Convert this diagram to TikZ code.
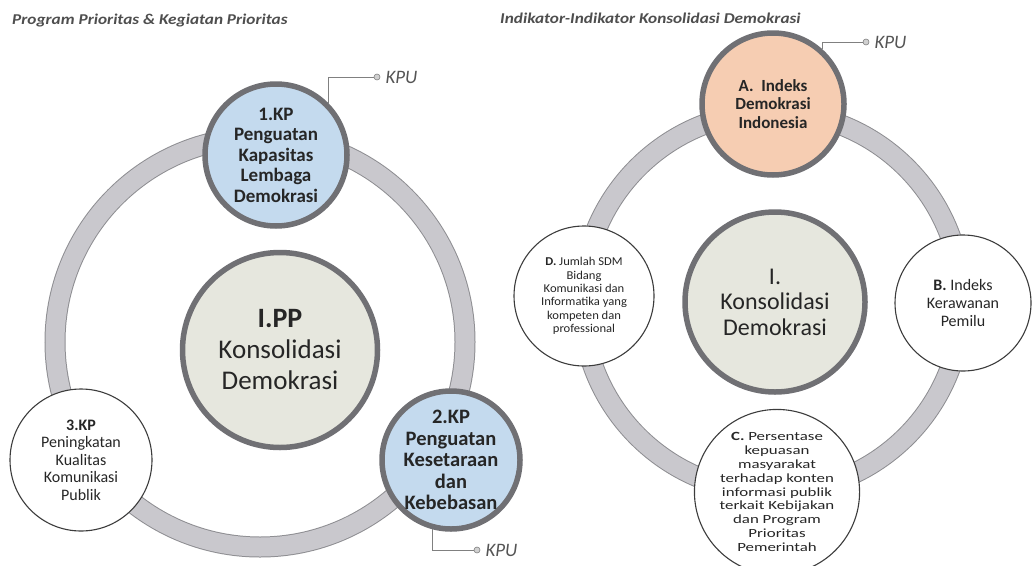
\documentclass[tikz,border=0pt]{standalone}
\usepackage{fontspec}
\setmainfont{Carlito}
\newfontfamily\widefont[FakeStretch=1.35]{Carlito}
\newfontfamily\narrowfont[FakeStretch=1.05]{Carlito}
\newfontfamily\headfont[FakeStretch=1.15]{Carlito}
\usetikzlibrary{positioning}

\definecolor{ringgray}{HTML}{C9C8CD}
\definecolor{ringedge}{HTML}{8E8E92}
\definecolor{bordergray}{HTML}{707074}
\definecolor{thingray}{HTML}{3C3C3C}
\definecolor{paleblue}{HTML}{C4DAEE}
\definecolor{peach}{HTML}{F6CDB2}
\definecolor{palegreen}{HTML}{E6E7DE}
\definecolor{textdark}{HTML}{262626}
\definecolor{headgray}{HTML}{4E4E4E}
\definecolor{kpugray}{HTML}{555555}
\definecolor{linegray}{HTML}{808080}
\definecolor{dotgray}{HTML}{D0D0D0}

\tikzset{
  thickcirc/.style={circle, draw=bordergray, line width=5.5pt, inner sep=0pt, align=center, text=textdark},
  thincirc/.style={circle, draw=thingray, line width=1.1pt, fill=white, inner sep=0pt, align=center, text=textdark},
  kpuline/.style={draw=linegray, line width=0.8pt},
  kpudot/.style={circle, draw=linegray, fill=dotgray, line width=0.6pt, inner sep=0pt, minimum size=6pt},
  kpulabel/.style={inner sep=0pt, font=\fontsize{19}{19}\selectfont\itshape, text=kpugray},
  heading/.style={anchor=west, inner sep=0pt, font=\headfont\fontsize{15}{15}\selectfont\bfseries\itshape, text=headgray}
}

\begin{document}
\begin{tikzpicture}[x=1pt,y=-1pt]
  \useasboundingbox (0,0) rectangle (1032,565);

  % Headings
  \node[heading] (headL) at (12,20) {Program Prioritas \& Kegiatan Prioritas};
  \node[heading] (headR) at (500,18) {Indikator-Indikator Konsolidasi Demokrasi};

  % The two grey rings
  \foreach \cx/\cy/\r in {260/342/205, 772/302/190} {
    \draw[ringedge, line width=21pt] (\cx,\cy) circle[radius=\r];
    \draw[ringgray, line width=19pt] (\cx,\cy) circle[radius=\r];
  }

  % Left: programme and activities
  \node[thickcirc, fill=palegreen, minimum size=195pt,
        font=\fontsize{27}{31}\selectfont] (pp) at (280,350)
    {{\fontsize{28}{31}\selectfont\bfseries I.PP}\\Konsolidasi\\Demokrasi};
  \node[thickcirc, fill=paleblue, minimum size=142pt,
        font=\fontsize{19}{20.5}\selectfont\bfseries] (kp1) at (276,155)
    {1.KP\\Penguatan\\Kapasitas\\Lembaga\\Demokrasi};
  \node[thickcirc, fill=paleblue, minimum size=138pt,
        font=\fontsize{20.5}{21.5}\selectfont\bfseries] (kp2) at (451,460)
    {2.KP\\Penguatan\\Kesetaraan\\dan\\Kebebasan};
  \node[thincirc, minimum size=142pt,
        font=\fontsize{16}{17.5}\selectfont] (kp3) at (81,460)
    {\textbf{3.KP}\\Peningkatan\\Kualitas\\Komunikasi\\Publik};

  % Right: indicators
  \node[thickcirc, fill=palegreen, minimum size=180pt,
        font=\fontsize{24}{25.5}\selectfont] (ki) at (775,302)
    {I.\\Konsolidasi\\Demokrasi};
  \node[thickcirc, fill=peach, minimum size=142pt,
        font=\fontsize{17}{18.5}\selectfont\bfseries] (ka) at (773,104)
    {A.\ \ Indeks\\Demokrasi\\Indonesia};
  \node[thincirc, minimum size=136pt,
        font=\fontsize{16}{18}\selectfont] (kb) at (963,303)
    {\textbf{B.} Indeks\\Kerawanan\\Pemilu};
  \node[thincirc, minimum size=148pt,
        font=\widefont\fontsize{12.5}{13.8}\selectfont] (kc) at (777,492)
    {\textbf{C.} Persentase\\kepuasan\\masyarakat\\terhadap konten\\informasi publik\\terkait Kebijakan\\dan Program\\Prioritas\\Pemerintah};
  \node[thincirc, minimum size=140pt,
        font=\narrowfont\fontsize{12}{13.3}\selectfont] (kd) at (584,296)
    {\textbf{D.} Jumlah SDM\\Bidang\\Komunikasi dan\\Informatika yang\\kompeten dan\\professional};

  % KPU call-outs
  \node[kpudot] (dot1) at (377,77) {};
  \node[kpulabel, right=5pt of dot1] (kpu1) {KPU};
  \draw[kpuline] (kp1.45) |- (dot1);

  \node[kpudot] (dot2) at (477,550) {};
  \node[kpulabel, right=5pt of dot2] (kpu2) {KPU};
  \draw[kpuline] (kp2.255) |- (dot2);

  \node[kpudot] (dot3) at (866,42) {};
  \node[kpulabel, right=5pt of dot3] (kpu3) {KPU};
  \draw[kpuline] (ka.48) |- (dot3);
\end{tikzpicture}
\end{document}
